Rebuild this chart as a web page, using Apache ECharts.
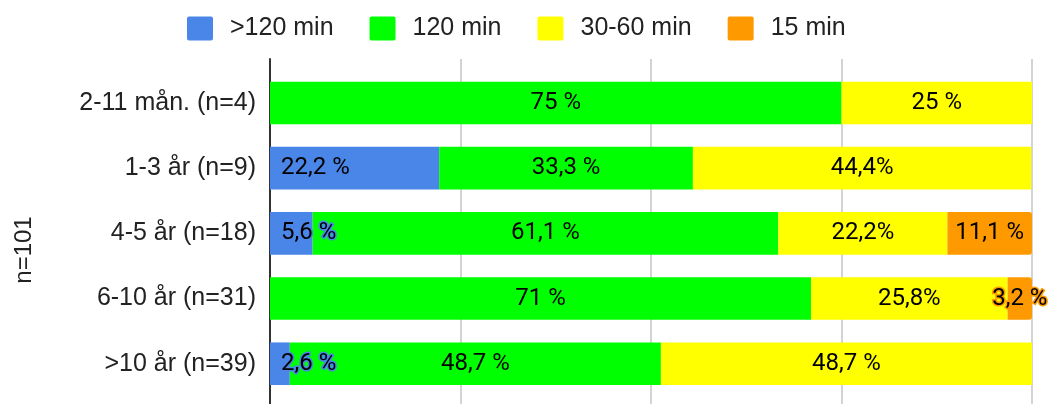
<!DOCTYPE html>
<html>
<head>
<meta charset="utf-8">
<script src="https://cdn.jsdelivr.net/npm/echarts@6/dist/echarts.min.js"></script>
<style>
  html, body { margin: 0; padding: 0; background: #fff; }
  #chart { width: 1055px; height: 404px; }
</style>
</head>
<body>
<div id="chart"></div>
<script>
// Age groups, top to bottom
const categories = ['2-11 mån. (n=4)', '1-3 år (n=9)', '4-5 år (n=18)', '6-10 år (n=31)', '>10 år (n=39)'];
const seriesNames = ['>120 min', '120 min', '30-60 min', '15 min'];

// Share of each group (%)
const over120 = [0, 22.2, 5.6, 0, 2.6];
const min120 = [75, 33.3, 61.1, 71, 48.7];
const min30to60 = [25, 44.4, 22.2, 25.8, 48.7];
const min15 = [0, 0, 11.1, 3.2, 0];

// Whether a label puts a space before the percent sign
const spaceOver120 = [true, true, true, true, true];
const space120 = [true, true, true, true, true];
const space30to60 = [true, false, false, false, true];
const space15 = [true, true, true, true, true];

const xTicks = [0, 25, 50, 75, 100];

const colors = ['#4a86e8', '#00ff00', '#ffff00', '#ff9900'];

function fmt(spaces) {
  return function (p) {
    if (!p.value) return '';
    return String(p.value).replace('.', ',') + (spaces[p.dataIndex] ? ' %' : '%');
  };
}

const labelBase = {
  show: true,
  color: '#000',
  fontFamily: 'Roboto',
  fontSize: 24
};

const chart = echarts.init(document.getElementById('chart'));
chart.setOption({
  animation: false,
  color: colors,
  legend: {
    top: 11,
    left: 182,
    itemWidth: 26,
    itemHeight: 24,
    itemGap: 36,
    icon: 'path://M2,0 H24 A2,2 0 0 1 26,2 V22 A2,2 0 0 1 24,24 H2 A2,2 0 0 1 0,22 V2 A2,2 0 0 1 2,0 Z',
    textStyle: { fontFamily: 'Liberation Sans', fontSize: 25, color: '#222', padding: [0, 0, 0, 12] },
    data: seriesNames
  },
  grid: [
    { left: 270, right: 23, top: 70.4, bottom: 7.7 },
    { left: 270, right: 23, top: 59, bottom: 0 }
  ],
  xAxis: [
    {
      gridIndex: 0, type: 'value', min: xTicks[0], max: xTicks[xTicks.length - 1], interval: 25,
      axisLabel: { show: false }, axisLine: { show: false }, axisTick: { show: false },
      splitLine: { show: false }
    },
    {
      gridIndex: 1, type: 'value', min: xTicks[0], max: xTicks[xTicks.length - 1], interval: 25,
      axisLabel: { show: false }, axisLine: { show: false }, axisTick: { show: false },
      splitLine: { show: true, lineStyle: { color: '#d3d3d3', width: 2 } }
    }
  ],
  yAxis: [
    {
      gridIndex: 0, type: 'category', data: categories, inverse: true,
      axisLine: { show: false }, axisTick: { show: false },
      axisLabel: { fontFamily: 'Liberation Sans', fontSize: 25, color: '#222', margin: 14 }
    },
    {
      gridIndex: 1, type: 'value', min: 0, max: 1,
      axisLabel: { show: false }, axisTick: { show: false }, splitLine: { show: false },
      axisLine: { show: true, onZero: false, lineStyle: { color: '#333', width: 2 } }
    }
  ],
  graphic: [{
    type: 'text',
    x: 24, y: 250,
    rotation: Math.PI / 2,
    style: {
      text: 'n=101',
      fontFamily: 'Liberation Sans',
      fontSize: 24,
      fill: '#222',
      align: 'center',
      verticalAlign: 'middle'
    }
  }],
  series: [
    {
      name: seriesNames[0], type: 'bar', stack: 'all', barWidth: 42.6, data: over120,
      label: Object.assign({}, labelBase, {
        position: 'insideLeft', distance: 11, formatter: fmt(spaceOver120),
        textBorderColor: colors[0], textBorderWidth: 3
      })
    },
    {
      name: seriesNames[1], type: 'bar', stack: 'all', data: min120,
      label: Object.assign({}, labelBase, { position: 'inside', formatter: fmt(space120) })
    },
    {
      name: seriesNames[2], type: 'bar', stack: 'all', data: min30to60,
      label: Object.assign({}, labelBase, { position: 'inside', formatter: fmt(space30to60) })
    },
    {
      name: seriesNames[3], type: 'bar', stack: 'all', data: min15,
      itemStyle: { borderRadius: [0, 3, 3, 0] },
      label: Object.assign({}, labelBase, {
        position: 'inside', formatter: fmt(space15),
        textBorderColor: colors[3], textBorderWidth: 3
      })
    }
  ]
});
</script>
</body>
</html>
